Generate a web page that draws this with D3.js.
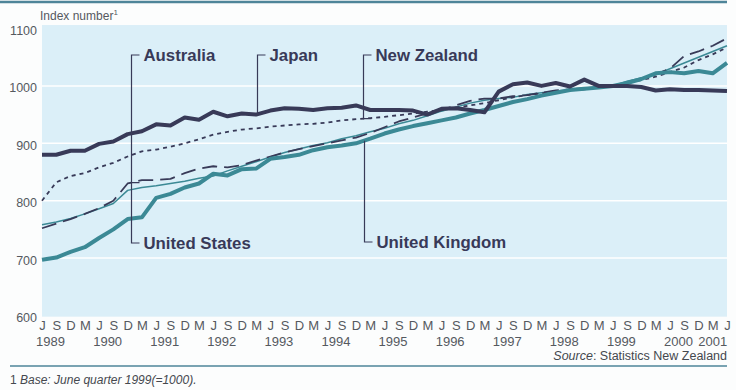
<!DOCTYPE html>
<html>
<head>
<meta charset="utf-8">
<script src="https://cdn.jsdelivr.net/npm/d3@7"></script>
<style>
  body { margin: 0; background: #fcfdfd; }
  svg { display: block; font-family: "Liberation Sans", Arial, sans-serif; }
</style>
</head>
<body>
<svg id="chart" width="736" height="390"></svg>
<script>
// quarterly index, June 1989 .. June 2001 (base June quarter 1999 = 1000)
var quarterLetters = ["J", "S", "D", "M"];
var yearLabels = ["1989", "1990", "1991", "1992", "1993", "1994", "1995",
                  "1996", "1997", "1998", "1999", "2000", "2001"];
var yTicks = [600, 700, 800, 900, 1000, 1100];

var japan = [880, 880, 887, 887, 899, 903, 916, 921, 933, 931, 945, 941, 955,
  947, 952, 950, 957, 961, 960, 958, 961, 962, 966, 958, 958, 958, 957, 950,
  960, 961, 958, 954, 990, 1003, 1006, 1000, 1005, 999, 1011, 1000, 1000,
  1000, 998, 992, 994, 993, 993, 992, 991];
var newZealand = [800, 832, 843, 848, 858, 866, 877, 886, 889, 894, 900, 907,
  915, 920, 924, 926, 929, 931, 933, 934, 936, 940, 942, 944, 946, 949, 952,
  955, 958, 962, 966, 970, 975, 980, 984, 987, 990, 992, 994, 997, 1000,
  1005, 1010, 1016, 1024, 1032, 1045, 1055, 1067];
var australia = [752, 760, 768, 777, 787, 800, 830, 836, 836, 838, 848, 856,
  860, 858, 862, 870, 877, 884, 890, 895, 900, 905, 910, 918, 928, 938, 945,
  952, 958, 966, 974, 978, 978, 982, 984, 988, 992, 994, 996, 998, 1000,
  1006, 1012, 1020, 1030, 1052, 1060, 1070, 1083];
var unitedStates = [758, 763, 769, 777, 786, 795, 818, 823, 826, 830, 834, 839,
  843, 852, 860, 868, 876, 884, 890, 896, 901, 908, 913, 920, 926, 934, 940,
  948, 956, 963, 970, 975, 978, 980, 985, 988, 991, 993, 995, 998, 1000,
  1008, 1014, 1020, 1030, 1040, 1050, 1060, 1070];
var unitedKingdom = [697, 701, 711, 719, 735, 750, 768, 771, 805, 812, 823,
  830, 847, 844, 855, 856, 873, 876, 880, 888, 893, 896, 900, 908, 917, 924,
  930, 935, 940, 945, 952, 958, 965, 972, 977, 983, 988, 993, 995, 997, 1000,
  1005, 1012, 1022, 1024, 1022, 1026, 1022, 1040];

var navy = "#383a58", teal = "#3b8995";

var series = [
  { name: "United States", values: unitedStates, color: teal, width: 1.5, dash: null },
  { name: "Australia", values: australia, color: navy, width: 1.8, dash: "15,7" },
  { name: "New Zealand", values: newZealand, color: navy, width: 1.8, dash: "4,4" },
  { name: "United Kingdom", values: unitedKingdom, color: teal, width: 4, dash: null },
  { name: "Japan", values: japan, color: navy, width: 4, dash: null }
];

// label placement: leader at quarter index, label above or below
var annotations = [
  { name: "Australia", at: 6.25, top: 55, to: australia, tick: true },
  { name: "Japan", at: 15.05, top: 55, to: japan, tick: false },
  { name: "New Zealand", at: 22.5, top: 55, to: newZealand, tick: true },
  { name: "United States", at: 6.25, bottom: 243, to: australia },
  { name: "United Kingdom", at: 22.55, bottom: 242, to: unitedKingdom }
];

var svg = d3.select("#chart");
var x = d3.scaleLinear().domain([0, 48]).range([42, 727]);
var y = d3.scaleLinear().domain([600, 1100]).range([315.5, 28.5]);

// header rule
svg.append("line").attr("x1", 0).attr("x2", 727).attr("y1", 2).attr("y2", 2)
  .attr("stroke", "#4e8599").attr("stroke-width", 2.5);

// plot background
svg.append("rect").attr("x", x(0)).attr("y", y(1106))
  .attr("width", x(48) - x(0)).attr("height", y(598) - y(1106))
  .attr("fill", "#dbeff8");

// white gridlines
svg.append("g").selectAll("line")
  .data(yTicks.filter(function(d) { return d > 600 && d < 1100; }))
  .enter().append("line")
  .attr("x1", x(0)).attr("x2", x(48))
  .attr("y1", function(d) { return y(d); }).attr("y2", function(d) { return y(d); })
  .attr("stroke", "#ffffff").attr("stroke-width", 1.5);

// y axis labels
var yAxis = svg.append("g").attr("transform", "translate(39,2)")
  .call(d3.axisLeft(y).tickValues(yTicks).tickSize(0).tickPadding(2)
    .tickFormat(d3.format("d")));
yAxis.select(".domain").remove();
yAxis.selectAll("text").attr("fill", "#55595f").attr("font-size", 12.5)
  .attr("font-family", "Liberation Sans, Arial, sans-serif");

svg.append("text").attr("x", 40).attr("y", 20).attr("fill", "#55595f")
  .attr("font-size", 12).text("Index number")
  .append("tspan").attr("font-size", 8).attr("dy", -5).text("1");

// x axis: quarter letters then years
var xAxis = svg.append("g").attr("transform", "translate(0,318)")
  .call(d3.axisBottom(x).tickValues(d3.range(0, 49)).tickSize(0).tickPadding(3)
    .tickFormat(function(i) { return quarterLetters[i % 4]; }));
xAxis.select(".domain").remove();
xAxis.selectAll("text").attr("fill", "#55595f").attr("font-size", 13)
  .attr("font-family", "Liberation Sans, Arial, sans-serif");

svg.append("g").selectAll("text").data(yearLabels).enter().append("text")
  .attr("x", function(d, i) { return x(Math.min(i * 4 + 0.6, 47)); })
  .attr("y", 346).attr("text-anchor", "middle")
  .attr("fill", "#55595f").attr("font-size", 13)
  .text(function(d) { return d; });

// lines
var line = d3.line()
  .x(function(d, i) { return x(i); })
  .y(function(d) { return y(d); });

svg.append("g").selectAll("path").data(series).enter().append("path")
  .attr("d", function(s) { return line(s.values); })
  .attr("fill", "none")
  .attr("stroke", function(s) { return s.color; })
  .attr("stroke-width", function(s) { return s.width; })
  .attr("stroke-dasharray", function(s) { return s.dash; })
  .attr("stroke-linejoin", "round");

// value at fractional quarter index
function valueAt(vals, t) {
  var i = Math.floor(t), f = t - i;
  return vals[i] + (vals[i + 1] - vals[i]) * f;
}

// leader lines and labels
var ann = svg.append("g");
annotations.forEach(function(a) {
  var lx = Math.round(x(a.at)) + 0.5;
  var ly = y(valueAt(a.to, a.at));
  var yl = a.top !== undefined ? a.top : a.bottom;
  var path = "M" + (lx + 8) + "," + yl + "H" + lx + "V" + ly;
  if (a.tick) path += "H" + (lx + 8);
  ann.append("path").attr("d", path).attr("fill", "none")
    .attr("stroke", navy).attr("stroke-width", 1.2);
  ann.append("text").attr("x", lx + 12).attr("y", yl + 6)
    .attr("fill", navy).attr("font-size", 16.8).attr("font-weight", "bold")
    .text(a.name);
});

// source and footnote
svg.append("text").attr("x", 727).attr("y", 360).attr("text-anchor", "end")
  .attr("fill", "#44484e").attr("font-size", 12.5)
  .html('<tspan font-style="italic">Source</tspan>: Statistics New Zealand');

svg.append("line").attr("x1", 10).attr("x2", 727).attr("y1", 366).attr("y2", 366)
  .attr("stroke", "#4e8599").attr("stroke-width", 1.5);

svg.append("text").attr("x", 10).attr("y", 384).attr("fill", "#44484e")
  .attr("font-size", 12)
  .html('1 <tspan font-style="italic">Base: June quarter 1999(=1000).</tspan>');
</script>
</body>
</html>
